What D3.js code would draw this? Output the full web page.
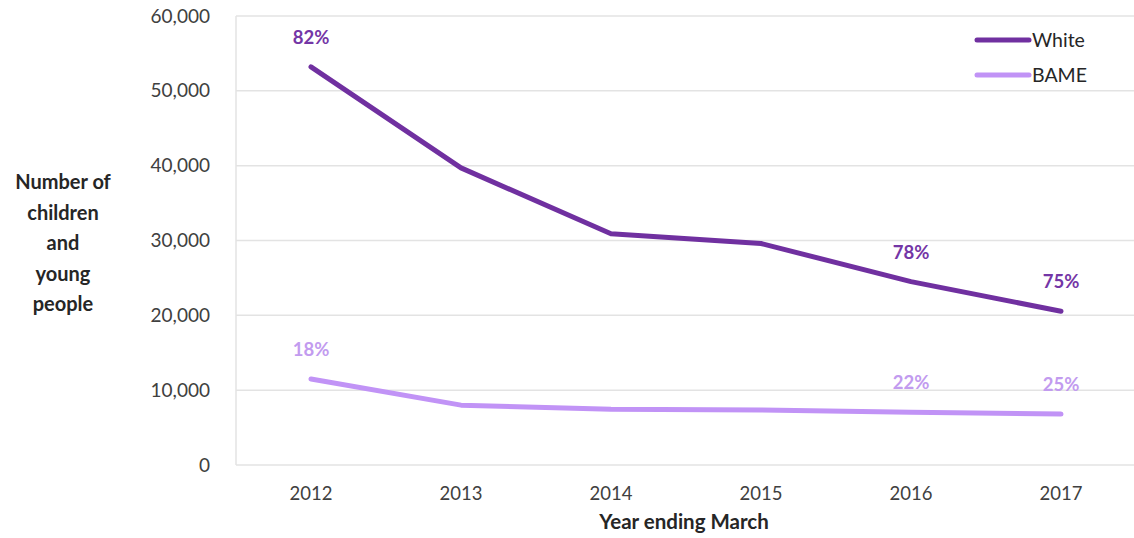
<!DOCTYPE html>
<html>
<head>
<meta charset="utf-8">
<script src="https://cdn.jsdelivr.net/npm/d3@7"></script>
<style>
  html, body { margin: 0; padding: 0; background: #ffffff; }
  svg { display: block; font-family: Lato, "Open Sans", sans-serif; }
</style>
</head>
<body>
<svg id="chart" width="1134" height="538"></svg>
<script>
// Children and young people by ethnicity, year ending March
const years = ["2012", "2013", "2014", "2015", "2016", "2017"];
const whiteValues = [53200, 39700, 30900, 29600, 24500, 20550];
const bameValues = [11500, 8000, 7450, 7350, 7050, 6800];
const whiteShareLabels = ["82%", null, null, null, "78%", "75%"];
const bameShareLabels = ["18%", null, null, null, "22%", "25%"];
const yTicks = [0, 10000, 20000, 30000, 40000, 50000, 60000];

const series = [
  { name: "White", values: whiteValues, labels: whiteShareLabels, color: "#7030A0", labelColor: "#7436a6" },
  { name: "BAME", values: bameValues, labels: bameShareLabels, color: "#c193f6", labelColor: "#c29bef" }
];

const svg = d3.select("#chart");
const W = 1134, H = 538;
const plot = { left: 236, right: 1136, top: 16, bottom: 465 };

const x = d3.scaleBand().domain(years).range([plot.left, plot.right]).padding(0);
const xc = d => x(d) + x.bandwidth() / 2;
const y = d3.scaleLinear().domain([0, 60000]).range([plot.bottom, plot.top]);

// gridlines
const grid = svg.append("g");
grid.selectAll("line").data(yTicks).join("line")
  .attr("x1", plot.left).attr("x2", W)
  .attr("y1", d => y(d)).attr("y2", d => y(d))
  .attr("stroke", "#e3e3e3").attr("stroke-width", 1.5);
grid.append("line")
  .attr("x1", plot.left).attr("x2", plot.left)
  .attr("y1", y(60000)).attr("y2", y(0))
  .attr("stroke", "#e3e3e3").attr("stroke-width", 1.5);

// y axis labels
const yAxis = d3.axisLeft(y).tickValues(yTicks).tickFormat(d3.format(",")).tickSize(0).tickPadding(0);
const yg = svg.append("g").attr("transform", `translate(${plot.left - 26},0)`).call(yAxis);
yg.select(".domain").remove();
yg.selectAll("text").attr("font-size", 19).attr("fill", "#404040")
  .attr("font-family", "Lato, sans-serif");

// x axis labels
const xAxis = d3.axisBottom(x).tickSize(0).tickPadding(0);
const xg = svg.append("g").attr("transform", `translate(0,${plot.bottom + 22})`).call(xAxis);
xg.select(".domain").remove();
xg.selectAll("text").attr("font-size", 18.5).attr("fill", "#404040")
  .attr("font-family", "Lato, sans-serif");

// axis titles
svg.append("text").attr("x", 684).attr("y", 529).attr("text-anchor", "middle")
  .attr("font-size", 20.5).attr("font-weight", "bold").attr("fill", "#262626")
  .text("Year ending March");

const yTitle = ["Number of", "children", "and", "young", "people"];
svg.append("text").attr("text-anchor", "middle").attr("font-size", 20)
  .attr("font-weight", "bold").attr("fill", "#262626")
  .selectAll("tspan").data(yTitle).join("tspan")
  .attr("x", 63).attr("y", (d, i) => 189 + i * 30.5).text(d => d);

// lines
const line = d3.line().x((d, i) => xc(years[i])).y(d => y(d)).curve(d3.curveLinear);
series.forEach(s => {
  svg.append("path").datum(s.values)
    .attr("d", line).attr("fill", "none")
    .attr("stroke", s.color).attr("stroke-width", 5)
    .attr("stroke-linecap", "round").attr("stroke-linejoin", "round");
  svg.append("g").selectAll("text")
    .data(s.values.map((v, i) => ({ v, i, t: s.labels[i] })).filter(d => d.t))
    .join("text")
    .attr("x", d => xc(years[d.i]))
    .attr("y", d => y(d.v) - 23)
    .attr("text-anchor", "middle").attr("font-size", 18.5).attr("font-weight", "bold")
    .attr("fill", s.labelColor)
    .text(d => d.t);
});

// legend
const legend = svg.append("g");
series.forEach((s, i) => {
  const ly = 40 + i * 35;
  legend.append("line").attr("x1", 977).attr("x2", 1029).attr("y1", ly).attr("y2", ly)
    .attr("stroke", s.color).attr("stroke-width", 5).attr("stroke-linecap", "round");
  legend.append("text").attr("x", 1032).attr("y", ly + 7).attr("font-size", 19.5)
    .attr("fill", "#262626").text(s.name);
});
</script>
</body>
</html>
